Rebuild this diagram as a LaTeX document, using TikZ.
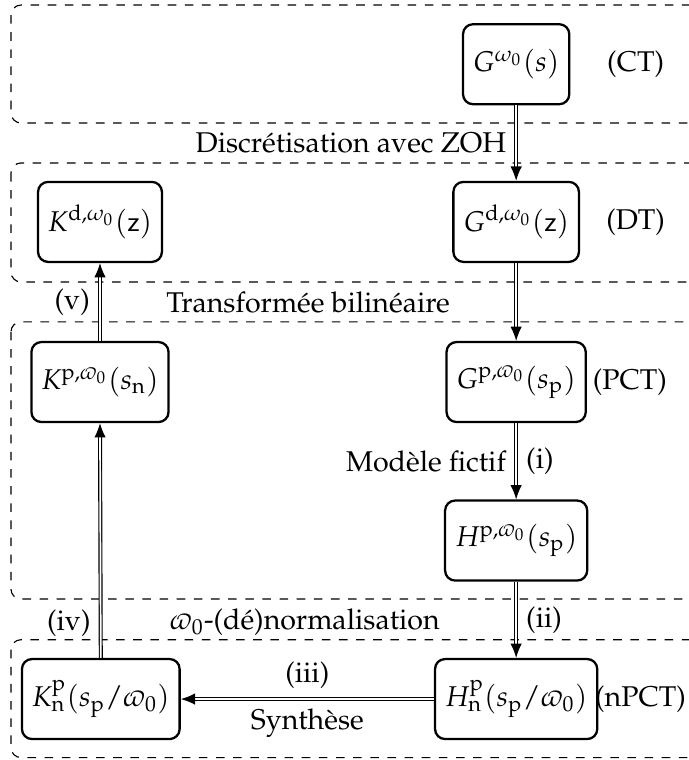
\documentclass[tikz,border=0pt]{standalone}
\usepackage[T1]{fontenc}
\usepackage{mathpazo}
\usetikzlibrary{arrows.meta}

\begin{document}
\begin{tikzpicture}[
    >=Latex,
    block/.style={draw, rounded corners=3.5pt, thick, align=center, minimum height=28pt, inner xsep=3.5pt},
    region/.style={draw, dashed, rounded corners=3.5pt},
    arrow/.style={double, -{Latex[length=5pt,width=4pt]}}
]
\clip (0,0) rectangle (8.475,-9.35);

% dashed zones
\draw[region] (0.135,-0.062) rectangle (8.7,-1.513);
\draw[region] (0.135,-2.005) rectangle (8.7,-3.469);
\draw[region] (0.135,-3.960) rectangle (8.7,-7.370);
\draw[region] (0.135,-7.870) rectangle (8.7,-9.320);

\node[block] (g) at (6.35, -0.79) {$G^{\omega_0}(s)$};
\node[block] (gd) at (6.35, -2.73) {$G^{\mathrm{d},\omega_0}(\mathsf{z})$};
\node[block] (kd) at (1.23, -2.73) {$K^{\mathrm{d},\omega_0}(\mathsf{z})$};
\node[block] (gp) at (6.35, -4.70) {$G^{\mathrm{p},\varpi_0}(s_{\mathrm{p}})$};
\node[block] (kp) at (1.23, -4.70) {$K^{\mathrm{p},\varpi_0}(s_{\mathrm{n}})$};
\node[block] (hp) at (6.35, -6.65) {$H^{\mathrm{p},\varpi_0}(s_{\mathrm{p}})$};
\node[block] (hn) at (6.35, -8.60) {$H^{\mathrm{p}}_{\mathrm{n}}(s_{\mathrm{p}}/\varpi_0)$};
\node[block] (kn) at (1.24, -8.60) {$K^{\mathrm{p}}_{\mathrm{n}}(s_{\mathrm{p}}/\varpi_0)$};

\node (ct) at (7.82, -0.79) {(CT)};
\node (dt) at (7.82, -2.73) {(DT)};
\node (pct) at (7.75, -4.70) {(PCT)};
\node (npct) at (7.88, -8.60) {(nPCT)};

\node (bilin) at (3.79, -3.715) {Transform\'ee bilin\'eaire};
\node (normal) at (3.75, -7.66) {$\varpi_0$-(d\'e)normalisation};

\draw[arrow] (g.south) -- node[left] {Discr\'etisation avec ZOH} (gd.north);
\draw[arrow] (gd.south) -- (gp.north);
\draw[arrow] (gp.south) -- node[left] {Mod\`ele fictif} node[right] {(i)} (hp.north);
\draw[arrow] (hp.south) -- node[right] {(ii)} (hn.north);
\draw[arrow] (hn.west) -- node[above] {(iii)} node[below] {Synth\`ese} (kn.east);
\draw[arrow] (kn.north) -- node[pos=0.15, left] {(iv)} (kp.south);
\draw[arrow] (kp.north) -- node[left] {(v)} (kd.south);
\end{tikzpicture}
\end{document}
